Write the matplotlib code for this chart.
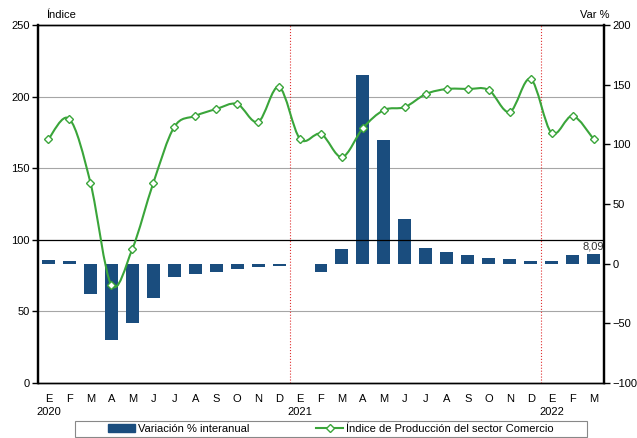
import matplotlib
matplotlib.use("Agg")
import matplotlib.pyplot as plt
from matplotlib.path import Path
from matplotlib.patches import PathPatch, Rectangle, Patch
from matplotlib.lines import Line2D
import matplotlib.transforms as mtransforms

plt.rcParams["font.family"] = ["Liberation Sans Narrow", "Liberation Sans", "DejaVu Sans"]

months = ["E", "F", "M", "A", "M", "J", "J", "A", "S", "O", "N", "D",
          "E", "F", "M", "A", "M", "J", "J", "A", "S", "O", "N", "D",
          "E", "F", "M"]
years = {0: "2020", 12: "2021", 24: "2022"}

# Índice de Producción del sector Comercio (left axis)
indice = [170.4, 184.4, 140.0, 68.5, 93.6, 139.7, 178.8, 186.5, 191.3, 194.8, 182.3, 206.7,
          170.4, 173.9, 157.8, 178.0, 190.6, 192.7, 201.8, 205.3, 205.3, 204.6, 189.2, 212.3,
          174.6, 186.5, 170.4]

# Variación % interanual (right axis)
variacion = [3.0, 2.5, -25.6, -64.0, -50.0, -28.5, -10.9, -8.6, -6.7, -4.5, -3.0, -2.0,
             -0.5, -6.7, 12.3, 158.0, 103.7, 37.7, 12.9, 9.5, 7.0, 4.8, 3.7, 2.5,
             2.3, 7.3, 8.09]

BAR_COLOR = "#1a4d7e"
LINE_COLOR = "#3aa53a"

fig = plt.figure(figsize=(6.37, 4.38), dpi=100)
ax = fig.add_axes([38 / 637, 55 / 438, 566 / 637, 358 / 438])
ax_l = ax.twinx()

x = list(range(len(months)))

# bars on the right-hand scale
ax.set_ylim(-100, 200)
ax.set_xlim(-0.5, len(months) - 0.5)
ax.yaxis.tick_right()
ax.set_yticks(range(-100, 201, 50))
ax.bar(x, variacion, width=0.62, color=BAR_COLOR, zorder=3)

# grey gridlines of the left scale, drawn below bars
blend = mtransforms.blended_transform_factory(ax.transAxes, ax_l.transData)
for level in [50, 150, 200]:
    ax.plot([0, 1], [level, level], transform=blend, color="#a6a6a6", lw=0.8, zorder=1)

last = variacion[-1]
ax.text(x[-1], last + 2, f"{last:.2f}".replace(".", ","), ha="center", va="bottom",
        fontsize=8, color="#333333", zorder=5)

# line on the left-hand scale
ax_l.set_ylim(0, 250)
ax_l.yaxis.tick_left()
ax_l.set_yticks(range(0, 251, 50))
ax_l.axhline(100, color="black", lw=0.9, zorder=1)
for xv in [11.5, 23.5]:
    ax_l.axvline(xv, color="#e03030", lw=0.8, ls=":", zorder=1)

# smoothed curve through the points (Catmull-Rom style Bezier)
verts = [(x[0], indice[0])]
codes = [Path.MOVETO]
n = len(x)
for i in range(n - 1):
    p0 = (x[max(i - 1, 0)], indice[max(i - 1, 0)])
    p1 = (x[i], indice[i])
    p2 = (x[i + 1], indice[i + 1])
    p3 = (x[min(i + 2, n - 1)], indice[min(i + 2, n - 1)])
    c1 = (p1[0] + (p2[0] - p0[0]) / 6, p1[1] + (p2[1] - p0[1]) / 6)
    c2 = (p2[0] - (p3[0] - p1[0]) / 6, p2[1] - (p3[1] - p1[1]) / 6)
    verts += [c1, c2, p2]
    codes += [Path.CURVE4] * 3
ax_l.add_patch(PathPatch(Path(verts, codes), fill=False, edgecolor=LINE_COLOR, lw=1.5, zorder=4))
ax_l.plot(x, indice, ls="none", marker="D", ms=4.2, mfc="white", mec=LINE_COLOR, mew=1.0, zorder=5)

# axes styling
for a in (ax, ax_l):
    for side in ["top", "bottom"]:
        a.spines[side].set_color("black")
        a.spines[side].set_linewidth(1.0)
    a.spines["left"].set_linewidth(1.6)
    a.spines["right"].set_linewidth(1.6)
    a.tick_params(axis="y", direction="out", length=4, width=1, pad=2, labelsize=8, colors="black")

labels = [m + ("\n" + years[i] if i in years else "") for i, m in enumerate(months)]
ax.set_xticks(x)
ax.set_xticklabels(labels, fontsize=8, va="top", linespacing=1.3)
ax.tick_params(axis="x", length=0, pad=8)
ax_l.tick_params(axis="x", length=0)

ax_l.text(0.014, 1.015, "Índice", transform=ax_l.transAxes, ha="left", va="bottom", fontsize=8)
ax.text(1.01, 1.015, "Var %", transform=ax.transAxes, ha="right", va="bottom", fontsize=8)

# legend
fig.patches.append(Rectangle((75 / 637, 1 / 438), 512 / 637, 16 / 438, transform=fig.transFigure,
                             fill=False, edgecolor="#888888", lw=0.8))
handles = [Patch(facecolor=BAR_COLOR, edgecolor=BAR_COLOR),
           Line2D([], [], color=LINE_COLOR, lw=1.5, marker="D", ms=4, mfc="white", mec=LINE_COLOR)]
fig.legend(handles, ["Variación % interanual", "Índice de Producción del sector Comercio"],
           loc="center", bbox_to_anchor=(331 / 637, 9 / 438), ncol=2, frameon=False,
           fontsize=8, handlelength=2.4, handletextpad=0.3, columnspacing=6.0)

fig.savefig("out.png", dpi=100)
